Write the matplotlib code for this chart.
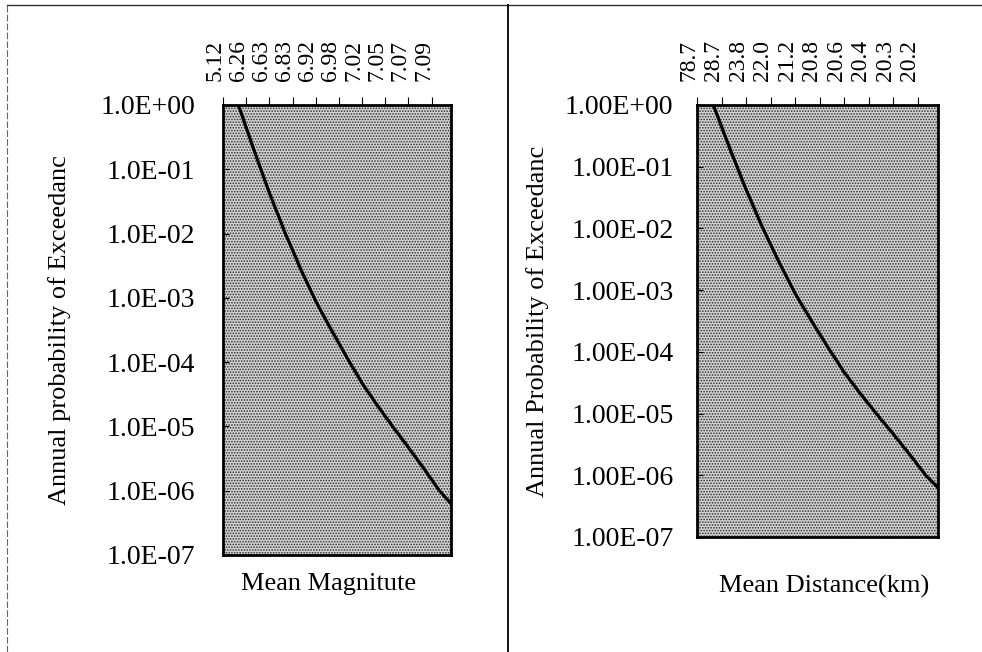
import matplotlib
matplotlib.use("Agg")
import matplotlib.pyplot as plt
from matplotlib.transforms import ScaledTranslation
from matplotlib.lines import Line2D

plt.rcParams['font.family'] = ['Liberation Serif', 'DejaVu Serif']
plt.rcParams['hatch.linewidth'] = 0.8

# hazard curve (60 ground motion levels on a category axis)
n_levels = 60
level_idx = [0, 4, 8, 12, 16, 20, 24, 28, 32, 36, 40, 44, 48, 52, 56, 59]
annual_prob = [5.0, 1.0, 2.0e-1, 4.3e-2, 1.05e-2, 2.9e-3, 8.9e-4, 3.2e-4,
               1.2e-4, 4.7e-5, 2.1e-5, 9.8e-6, 4.7e-6, 2.2e-6, 1.0e-6, 6.3e-7]

# category labels shown on the top axis
tick_idx = [0, 6, 12, 18, 24, 30, 36, 42, 48, 54]
mean_mag = ["5.12", "6.26", "6.63", "6.83", "6.92", "6.98", "7.02", "7.05", "7.07", "7.09"]
mean_dist = ["78.7", "28.7", "23.8", "22.0", "21.2", "20.8", "20.6", "20.4", "20.3", "20.2"]
decades = [1e0, 1e-1, 1e-2, 1e-3, 1e-4, 1e-5, 1e-6, 1e-7]

W, H = 982, 652
fig = plt.figure(figsize=(W / 100, H / 100), dpi=100)


def panel(px_box, top_labels, yfmt, ylabel, xlabel, ylab_x, ytick_pad, xlab_xy):
    l, r, t, b = px_box
    ax = fig.add_axes([l / W, 1 - b / H, (r - l) / W, (b - t) / H])
    # stippled plot area like the old spreadsheet print
    ax.patch.set_facecolor('#d2d2d2')
    ax.patch.set_edgecolor('#2e2e2e')
    ax.patch.set_linewidth(0)
    ax.patch.set_hatch('......')
    ax.plot(level_idx, annual_prob, color='black', lw=2.3)
    ax.set_yscale('log')
    ax.set_ylim(1e-7, 1e0)
    ax.set_xlim(0, n_levels - 1)
    ax.set_yticks(decades)
    ax.set_yticklabels([format(v, yfmt) for v in decades])
    ax.minorticks_off()
    ax.tick_params(axis='y', direction='in', length=4, width=0.8, labelsize=20,
                   pad=ytick_pad, right=False)
    ax.xaxis.tick_top()
    ax.set_xticks(tick_idx)
    ax.set_xticklabels(top_labels, rotation=90)
    ax.tick_params(axis='x', direction='out', length=6, width=0.8, labelsize=17,
                   pad=11, bottom=False)
    shift = ScaledTranslation(-8 / 100, 0, fig.dpi_scale_trans)
    for lbl in ax.get_xticklabels():
        lbl.set_transform(lbl.get_transform() + shift)
    for sp in ax.spines.values():
        sp.set_linewidth(2.0)
    ax.set_ylabel(ylabel, fontsize=19)
    ax.yaxis.set_label_coords(ylab_x, 0.5)
    ax.xaxis.set_label_position('bottom')
    ax.set_xlabel(xlabel, fontsize=19, va='top')
    ax.xaxis.set_label_coords(*xlab_xy)
    return ax


panel((223, 451, 105, 555), mean_mag, '.1E', 'Annual probability of Exceedanc',
      'Mean Magnitute', -0.665, 20, (0.465, -0.04))
panel((697, 938, 105, 537), mean_dist, '.2E', 'Annual Probability of Exceedanc',
      'Mean Distance(km)', -0.615, 17, (0.527, -0.088))

# page frame lines around the two charts
fig.add_artist(Line2D([7 / W, 1], [1 - 5 / H, 1 - 5 / H], color='#333333', lw=1.0))
fig.add_artist(Line2D([7 / W, 7 / W], [0, 1 - 5 / H], color='#666666', lw=0.8, ls=(0, (6, 2))))
fig.add_artist(Line2D([508 / W, 508 / W], [0, 1 - 5 / H], color='black', lw=1.3))

fig.savefig('out.png', dpi=100)
